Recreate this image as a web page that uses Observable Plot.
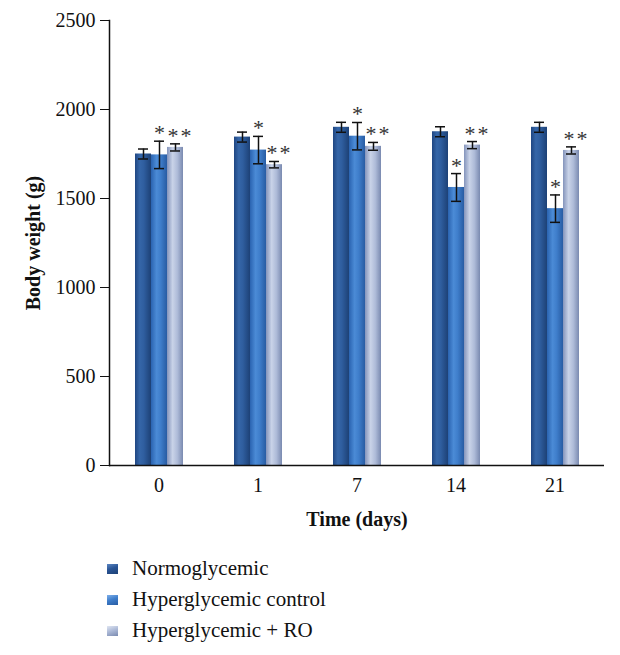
<!DOCTYPE html>
<html><head><meta charset="utf-8">
<script src="https://cdn.jsdelivr.net/npm/d3@7"></script>
<script src="https://cdn.jsdelivr.net/npm/@observablehq/plot@0.6"></script>
<style>
body{margin:0;background:#fff;font-family:"Liberation Serif",serif;color:#111;}
#chart svg{display:block;}
g[aria-label="y-axis label"] text, g[aria-label="fx-axis label"] text{font-weight:bold;font-size:20px;}
.legend{padding:13px 0 0 107px;}
.row{display:flex;align-items:center;height:31px;font-size:21px;}
.sw{width:11px;height:10px;margin-right:14px;}
</style></head><body><div id="chart"></div><div class="legend" id="legend"></div>
<script>
const times = ["0","1","7","14","21"];
const groups = ["Normoglycemic","Hyperglycemic control","Hyperglycemic + RO"];
const normoMean = [1750,1845,1900,1875,1900];
const normoErr = [28,28,28,28,28];
const hyperMean = [1745,1772,1850,1562,1443];
const hyperErr = [77,77,77,78,77];
const roMean = [1787,1690,1793,1800,1770];
const roErr = [20,18,22,20,20];
const groupStars = ["", "*", "*\u200A*"];
const yTicks = [0,500,1000,1500,2000,2500];

const means = [normoMean, hyperMean, roMean];
const errs = [normoErr, hyperErr, roErr];
const rows = [];
times.forEach((t,i)=>groups.forEach((g,j)=>rows.push({time:t, group:g, mean:means[j][i], lo:means[j][i]-errs[j][i], hi:means[j][i]+errs[j][i], star:groupStars[j]})));

const gradIds = ["gN","gH","gR"];
const gradStops = [
  [["0","#1f4682"],["0.3","#3566a8"],["0.55","#2f5e9f"],["1","#1d4176"]],
  [["0","#2a63b0"],["0.35","#4b8bd6"],["0.6","#3f7ecb"],["1","#285ca3"]],
  [["0","#8494bb"],["0.35","#c9d3e8"],["0.65","#aebbd8"],["1","#7a8ab0"]]
];

const plot = Plot.plot({
  width:620, height:540,
  marginLeft:107, marginRight:14, marginTop:20, marginBottom:75,
  style:{fontFamily:"'Liberation Serif', serif", fontSize:"20px", color:"#111", background:"#fff"},
  fx:{domain:times, paddingInner:0, paddingOuter:0, label:"Time (days)", labelAnchor:"center", tickSize:0, tickPadding:12, labelOffset:60},
  x:{domain:groups, paddingInner:0, paddingOuter:1.44, axis:null},
  y:{domain:[0,2500], ticks:yTicks, tickFormat:d=>String(d), tickSize:9, tickPadding:5, label:"Body weight (g)", labelAnchor:"center", labelArrow:"none", labelOffset:84},
  color:{domain:groups, range:gradIds.map(id=>`url(#${id})`)},
  marks:[
    Plot.barY(rows, {fx:"time", x:"group", y:"mean", fill:"group"}),
    Plot.ruleX(rows, {fx:"time", x:"group", y1:"lo", y2:"hi", stroke:"#111", strokeWidth:1.5}),
    Plot.tickY(rows, {fx:"time", x:"group", y:"lo", stroke:"#111", strokeWidth:1.5, inset:3}),
    Plot.tickY(rows, {fx:"time", x:"group", y:"hi", stroke:"#111", strokeWidth:1.5, inset:3}),
    Plot.text(rows.filter(d=>d.star === groupStars[1]), {fx:"time", x:"group", y:"hi", text:"star", lineAnchor:"bottom", dy:-1, fontSize:22, fill:"#333"}),
    Plot.text(rows.filter(d=>d.star === groupStars[2]), {fx:"time", x:"group", y:"hi", text:"star", lineAnchor:"bottom", dy:-1, dx:4, fontSize:22, fill:"#333"}),
    Plot.ruleY([0], {stroke:"#111", strokeWidth:1.5}),
    Plot.frame({anchor:"left", facetAnchor:"left", stroke:"#111", strokeWidth:1.5})
  ]
});
const svg = d3.select(plot);
const defs = svg.insert("defs", ":first-child");
gradIds.forEach((id,k)=>{
  const lg = defs.append("linearGradient").attr("id", id).attr("x1","0").attr("x2","1").attr("y1","0").attr("y2","0");
  gradStops[k].forEach(([o,c])=>lg.append("stop").attr("offset",o).attr("stop-color",c));
});
document.getElementById("chart").appendChild(plot);

const legendBg = [
  "linear-gradient(160deg,#5b86c2 0%,#2a5596 45%,#1d4176 100%)",
  "linear-gradient(160deg,#7fb0ea 0%,#3f7ecb 45%,#285ca3 100%)",
  "linear-gradient(160deg,#e0e6f2 0%,#aebbd8 45%,#7a8ab0 100%)"
];
const leg = d3.select("#legend");
groups.forEach((g,k)=>{
  const r = leg.append("div").attr("class","row");
  r.append("div").attr("class","sw").style("background", legendBg[k]);
  r.append("span").text(g);
});
</script></body></html>
